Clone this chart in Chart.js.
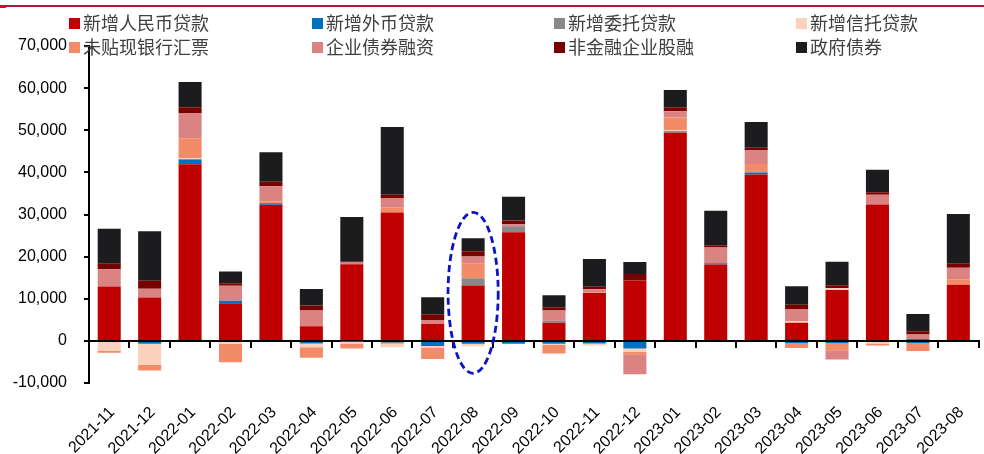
<!DOCTYPE html>
<html>
<head>
<meta charset="utf-8">
<script src="https://cdn.jsdelivr.net/npm/chart.js@4.4.1/dist/chart.umd.min.js"></script>
<style>
  body { margin: 0; background: #fff; }
  #wrap { position: relative; width: 984px; height: 454px; }
  #topline { position: absolute; left: 0; top: 5px; width: 984px; height: 2px; background: #b3163a; }
  #topmark { position: absolute; left: 0; top: 5px; width: 6px; height: 3px; background: #c8102e; }
  .lg { position: absolute; font-family: "Noto Sans CJK SC", sans-serif; font-size: 18px; color: #404040;
        line-height: 24px; white-space: nowrap; }
  .lg i { display: inline-block; width: 11px; height: 11px; margin-right: 3px; vertical-align: 1px; }
</style>
</head>
<body>
<div id="wrap">
  <canvas id="tsfChart" width="984" height="454"></canvas>
  <div id="topline"></div>
  <div id="topmark"></div>
  <div id="legend"></div>
</div>
<script>
// 社融分项（亿元）
const labels = ['2021-11', '2021-12', '2022-01', '2022-02', '2022-03', '2022-04', '2022-05', '2022-06',
  '2022-07', '2022-08', '2022-09', '2022-10', '2022-11', '2022-12', '2023-01', '2023-02', '2023-03',
  '2023-04', '2023-05', '2023-06', '2023-07', '2023-08'];

const rmbLoans = [12900, 10300, 41950, 8950, 32300, 3500, 18200, 30500, 4000, 13150, 25800, 4300,
  11350, 14350, 49400, 18150, 39500, 4300, 12100, 32400, 400, 13300];
const fxLoans = [0, -700, 1100, 550, 400, -600, -200, 0, -1200, -700, -700, -700,
  -600, -1800, 0, 300, 500, -500, -500, 0, -500, 0];
const entrustedLoans = [0, 0, 150, 0, 0, 0, 0, -600, 0, 1700, 1400, 500,
  0, 0, 400, 0, 0, 0, 0, 0, 0, 0];
const trustLoans = [-2400, -5000, 200, -700, 0, -900, -400, -900, -400, -600, 0, -200,
  -500, -800, 200, 0, 0, 400, 400, -600, 0, 0];
const bankersAcceptance = [-400, -1350, 4700, -4400, 400, -2500, -1200, 1200, -2700, 3600, 0, -2100,
  200, -600, 3000, 0, 2000, -1200, -1700, -500, -1900, 1350];
const corpBonds = [4100, 2100, 6000, 3600, 3600, 3700, 400, 2200, 950, 1600, 500, 2400,
  700, -4700, 1500, 3700, 3300, 2850, -2200, 2300, 1100, 2700];
const equity = [1300, 1900, 1350, 550, 1100, 1200, 200, 800, 1400, 1200, 900, 800,
  600, 1500, 950, 550, 550, 1000, 700, 600, 800, 950];
const govBonds = [8300, 11700, 6000, 2800, 7000, 3900, 10600, 16100, 4000, 3100, 5600, 2850,
  6600, 2850, 4100, 8200, 6100, 4400, 5600, 5300, 4100, 11800];

// 虚线圈标注
const markLabel = '2022-08';
const markTop = 30500;
const markBottom = -7700;

const series = [
  { label: '新增人民币贷款', data: rmbLoans, color: '#c00000' },
  { label: '新增外币贷款', data: fxLoans, color: '#0070c0' },
  { label: '新增委托贷款', data: entrustedLoans, color: '#898989' },
  { label: '新增信托贷款', data: trustLoans, color: '#fbd0bc' },
  { label: '未贴现银行汇票', data: bankersAcceptance, color: '#f28b67' },
  { label: '企业债券融资', data: corpBonds, color: '#db8282' },
  { label: '非金融企业股融', data: equity, color: '#770000' },
  { label: '政府债券', data: govBonds, color: '#1c1c1e' }
];

// legend (2 rows x 4 cols)
const legendEl = document.getElementById('legend');
const colX = [69, 312, 554, 796];
const rowY = [10, 34];
series.forEach((s, i) => {
  const d = document.createElement('div');
  d.className = 'lg';
  d.style.left = colX[i % 4] + 'px';
  d.style.top = rowY[Math.floor(i / 4)] + 'px';
  d.innerHTML = '<i style="background:' + s.color + '"></i>' + s.label;
  legendEl.appendChild(d);
});

const ellipsePlugin = {
  id: 'markEllipse',
  afterDatasetsDraw(chart) {
    const { ctx, scales: { x, y } } = chart;
    const i = labels.indexOf(markLabel);
    const cx = x.getPixelForValue(i);
    const step = x.getPixelForValue(1) - x.getPixelForValue(0);
    const top = y.getPixelForValue(markTop);
    const bot = y.getPixelForValue(markBottom);
    ctx.save();
    ctx.beginPath();
    ctx.ellipse(cx, (top + bot) / 2, step * 0.62, (bot - top) / 2, 0, 0, Math.PI * 2);
    ctx.setLineDash([7, 4]);
    ctx.lineWidth = 2.8;
    ctx.strokeStyle = '#0a14c4';
    ctx.stroke();
    ctx.restore();
  }
};

Chart.defaults.font.family = '"Liberation Sans", Arial, sans-serif';
Chart.defaults.font.size = 16;
Chart.defaults.color = '#000';

const ctx = document.getElementById('tsfChart').getContext('2d');
const tsfChart = new Chart(ctx, {
  type: 'bar',
  data: {
    labels: labels,
    datasets: series.map(s => ({
      label: s.label,
      data: s.data,
      backgroundColor: s.color,
      borderWidth: 0,
      barPercentage: 0.57,
      categoryPercentage: 1.0
    }))
  },
  options: {
    responsive: false,
    animation: false,
    layout: { padding: { left: 0, right: 4, top: 46, bottom: 0 } },
    plugins: {
      legend: { display: false },
      tooltip: { enabled: false }
    },
    scales: {
      x: {
        stacked: true,
        grid: { display: false },
        border: { display: false },
        ticks: { minRotation: 45, maxRotation: 45, padding: 12, labelOffset: 3, autoSkip: false },
        afterFit(scale) { scale.height = 71; }
      },
      x2: {
        type: 'category',
        position: { y: 0 },
        offset: true,
        grid: { offset: true, drawOnChartArea: false, drawTicks: true, tickLength: 6, color: '#000', lineWidth: 2 },
        border: { display: true, color: '#000', width: 2 },
        ticks: { display: false }
      },
      y: {
        stacked: true,
        min: -10000,
        max: 70000,
        ticks: { stepSize: 10000, padding: 17 },
        grid: { drawOnChartArea: false, drawTicks: true, tickLength: 5, color: '#000', lineWidth: 2 },
        border: { display: true, color: '#000', width: 2 },
        afterFit(scale) { scale.width = 89; }
      }
    }
  },
  plugins: [ellipsePlugin]
});
</script>
</body>
</html>
